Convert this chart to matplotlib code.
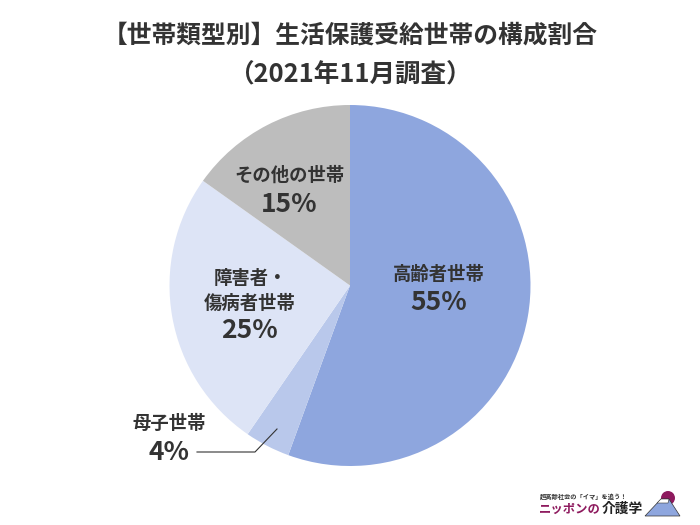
import matplotlib
matplotlib.use('Agg')
import matplotlib.pyplot as plt
from matplotlib.patches import Circle, Polygon
plt.rcParams['font.family'] = ['Noto Sans CJK JP', 'DejaVu Sans']

title_lines = ['【世帯類型別】生活保護受給世帯の構成割合', '（2021年11月調査）']
categories = ['高齢者世帯', '母子世帯', '障害者・\n傷病者世帯', 'その他の世帯']
values = [55, 4, 25, 15]
value_labels = ['55%', '4%', '25%', '15%']
colors = ['#8ea6de', '#b9c8eb', '#dde4f6', '#bdbdbd']
ink = '#333333'
W, H = 700, 525

fig = plt.figure(figsize=(7, 5.25), dpi=100)
ax = fig.add_axes([0, 0, 1, 1])
cx, cy, r = 350, 285.5, 180.5
ax.pie(values, colors=colors, startangle=90, counterclock=False, center=(cx, H - cy), radius=r,
       frame=True, wedgeprops=dict(linewidth=0))
ax.set_xlim(0, W)
ax.set_ylim(0, H)
ax.set_aspect('equal')
ax.axis('off')


def T(x, y, s, size, color=ink, ha='center', **kw):
    ax.text(x, H - y, s, fontsize=size, fontweight='bold', color=color,
            ha=ha, va='center', **kw)


T(350, 35.5, title_lines[0], 17.8)
T(350, 74.5, title_lines[1], 18.4)

label_size, pct_size = 13.2, 19
T(439, 274, categories[0], label_size)
T(439, 303, value_labels[0], pct_size)
T(169, 423, categories[1], label_size)
T(169, 453, value_labels[1], pct_size)
T(250, 291, categories[2], label_size, linespacing=1.35)
T(249, 331, value_labels[2], pct_size)
T(289, 175, categories[3], label_size)
T(289, 204, value_labels[3], pct_size)

ax.plot([197, 255, 277], [H - 452, H - 452, H - 429], color=ink, lw=0.8)

# site logo
ax.add_patch(Circle((668, H - 498), 7, color='#8e1a5e', lw=0, zorder=3))
ax.add_patch(Polygon([(661, H - 499), (645, H - 516), (680, H - 516), (669, H - 499)],
                     closed=True, facecolor='#8ea6de', edgecolor='#333333', lw=0.5, zorder=4))
ax.add_patch(Polygon([(661, H - 499), (657, H - 503), (668, H - 503), (669, H - 499)],
                     closed=True, facecolor='white', edgecolor='#333333', lw=0.4, zorder=5))
T(583.5, 496, '超高齢社会の「イマ」を追う！', 4.5)
T(539, 509, 'ニッポンの', 8.9, color='#8e1a5e', ha='left')
T(643, 509, '介護学', 9.9, color='#222222', ha='right')

fig.savefig('out.png', dpi=100)
